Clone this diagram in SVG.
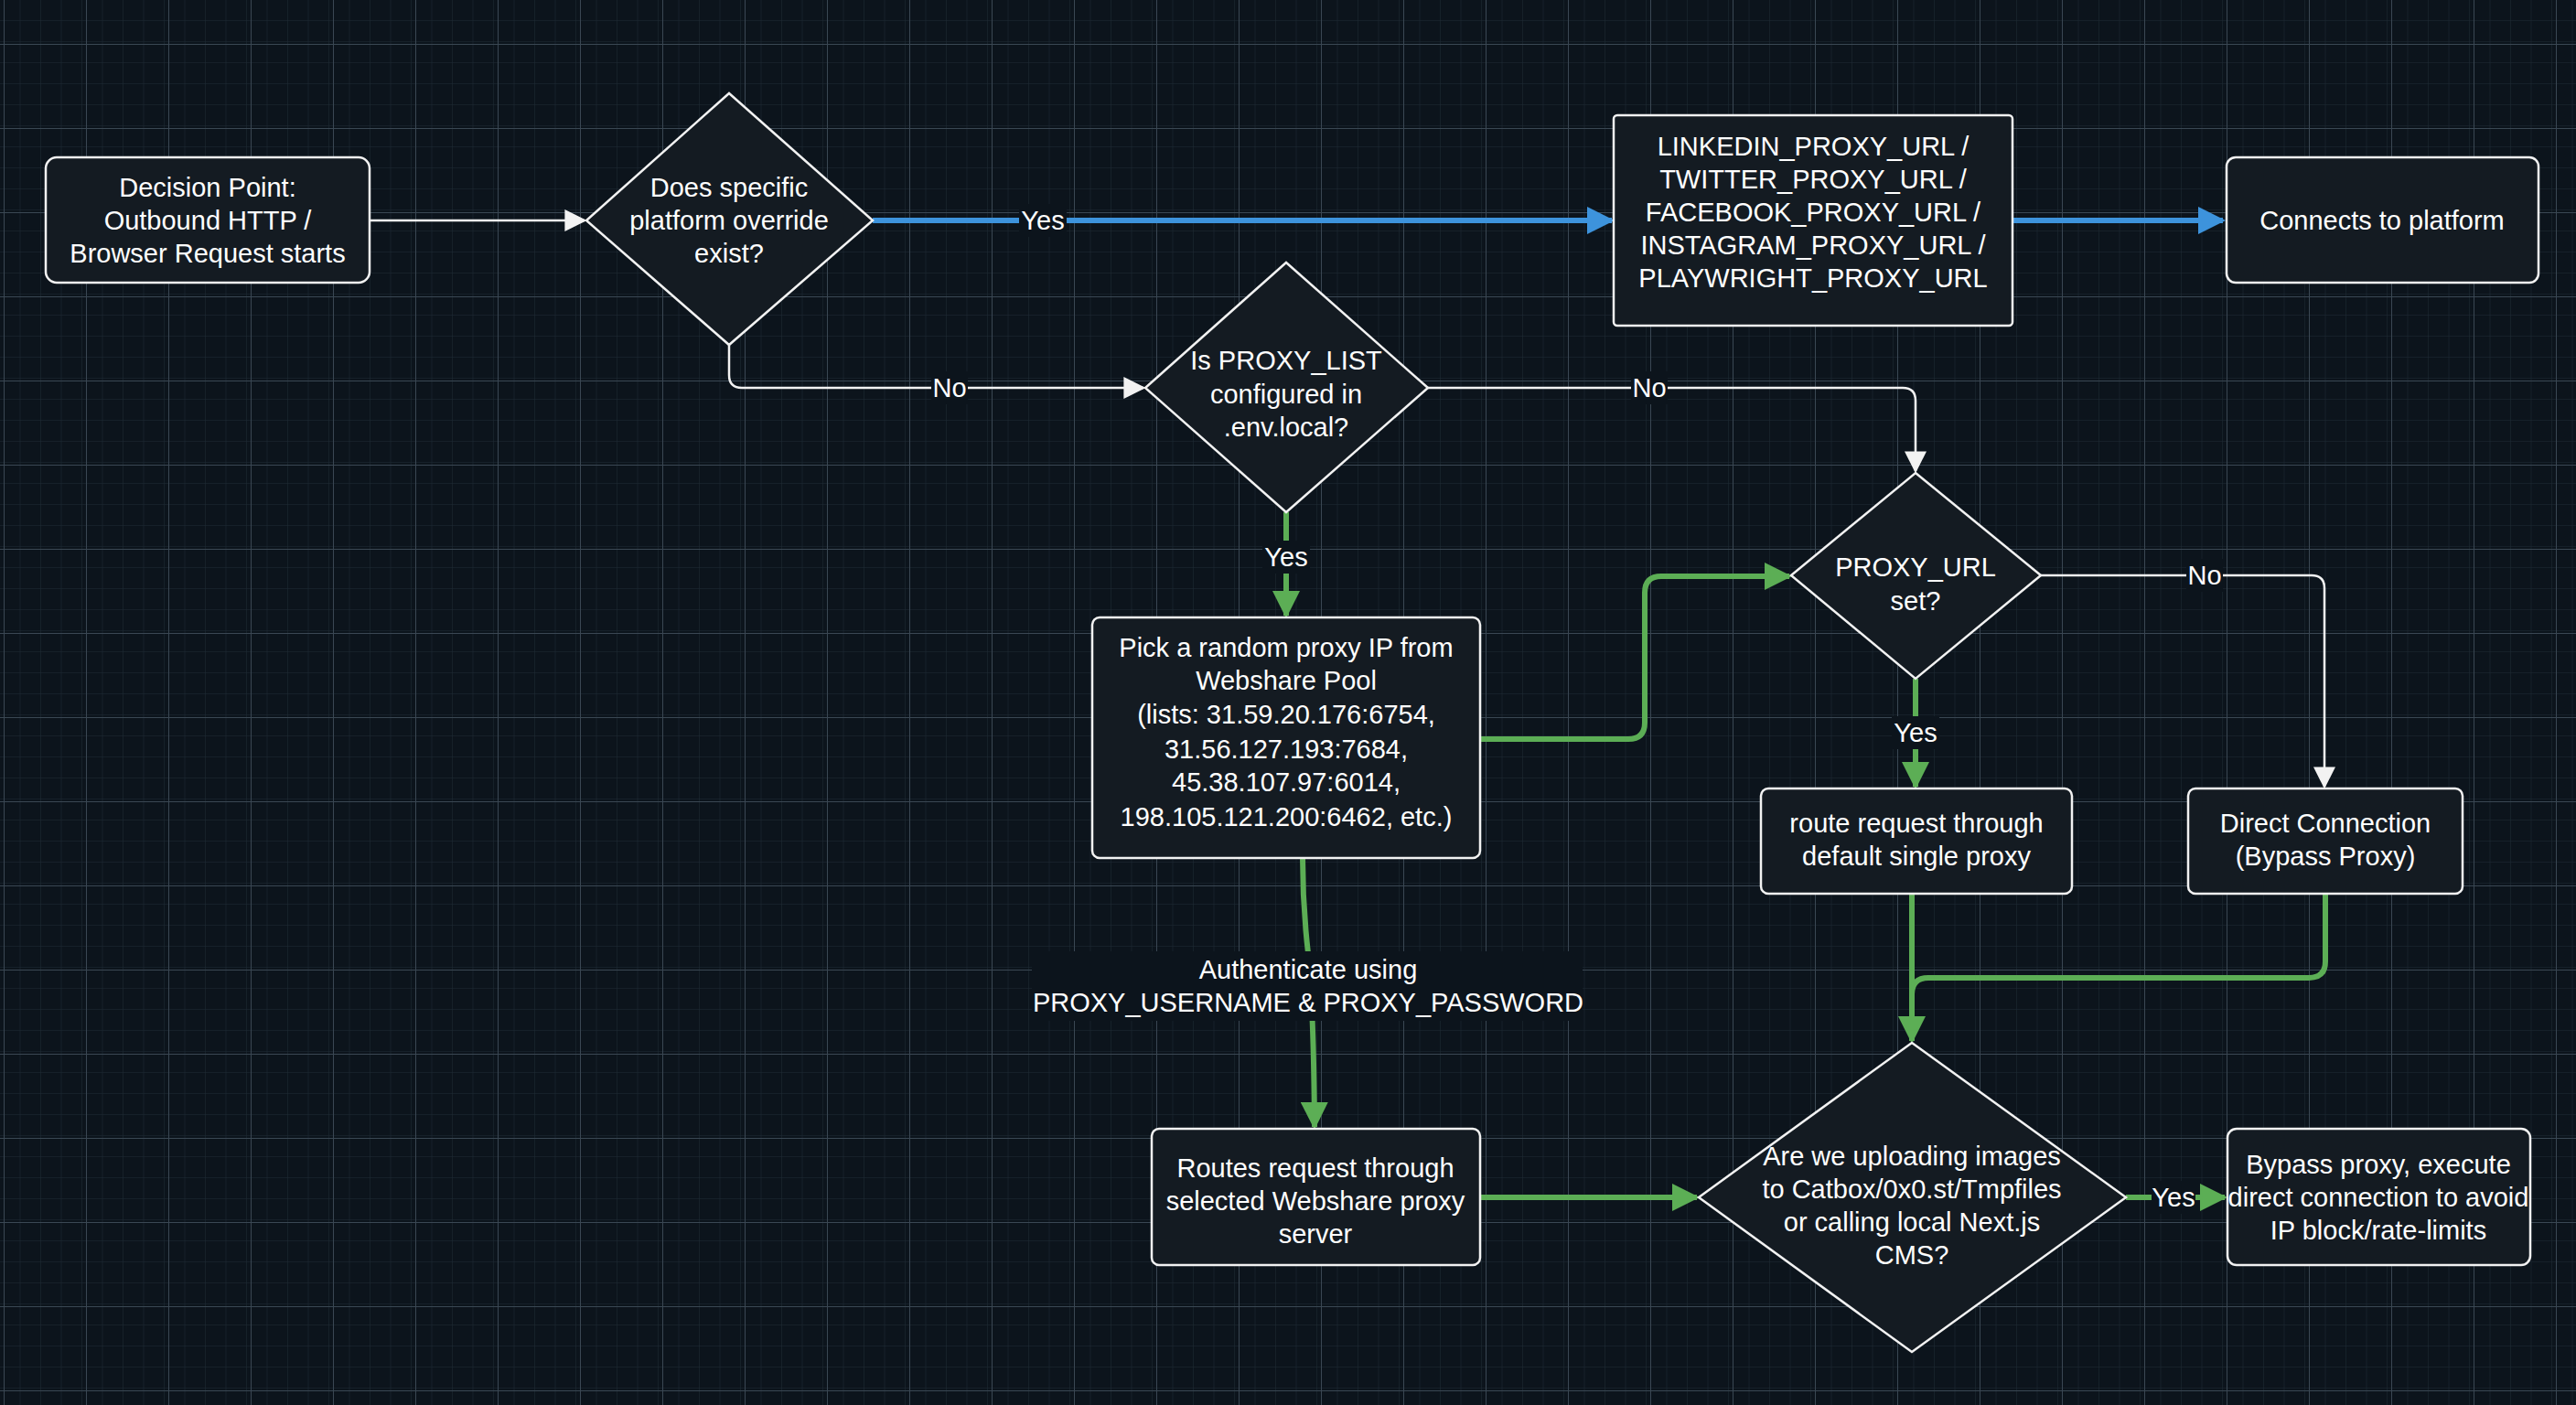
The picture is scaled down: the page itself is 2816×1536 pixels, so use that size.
<svg xmlns="http://www.w3.org/2000/svg" width="2816" height="1536" viewBox="0 0 2816 1536">
<defs>
<pattern id="minor" width="22.5" height="23" patternUnits="userSpaceOnUse"><path d="M22.5 0V23M0 23H22.5" fill="none" stroke="#1f2b36" stroke-width="1"/></pattern>
<pattern id="major" width="90" height="92" patternUnits="userSpaceOnUse" x="4" y="48"><path d="M0 0V92M0 0H90" fill="none" stroke="#3a4753" stroke-width="2"/></pattern>
<marker id="aw" viewBox="0 0 10 10" refX="9" refY="5" markerWidth="10" markerHeight="10" orient="auto" markerUnits="userSpaceOnUse"><path d="M0 0L10 5L0 10z" fill="#f2f2f2"/></marker>
<marker id="aw2" viewBox="0 0 10 10" refX="9" refY="5" markerWidth="24" markerHeight="24" orient="auto" markerUnits="userSpaceOnUse"><path d="M0 0L10 5L0 10z" fill="#f2f2f2"/></marker>
<marker id="ab" viewBox="0 0 10 10" refX="9" refY="5" markerWidth="5" markerHeight="5" orient="auto"><path d="M0 0L10 5L0 10z" fill="#3d93dc"/></marker>
<marker id="ag" viewBox="0 0 10 10" refX="9" refY="5" markerWidth="5" markerHeight="5" orient="auto"><path d="M0 0L10 5L0 10z" fill="#5cae55"/></marker>
<style>
.n{fill:#141b22;stroke:#f2f2f2;stroke-width:2.5}
text{font-family:"Liberation Sans",Arial,sans-serif;font-size:29px;fill:#ffffff;text-anchor:middle;dominant-baseline:central}
.w{fill:none;stroke:#f2f2f2;stroke-width:2.5}
.b{fill:none;stroke:#3d93dc;stroke-width:6}
.g{fill:none;stroke:#5cae55;stroke-width:6;stroke-linejoin:round}
.lb{fill:#0c141c}
</style>
</defs>
<rect width="2816" height="1536" fill="#0c141c"/>
<rect width="2816" height="1536" fill="url(#minor)"/>
<rect width="2816" height="1536" fill="url(#major)"/>
<g id="connectors">
<path class="w" d="M404 241H639" marker-end="url(#aw2)"/>
<path class="b" d="M954 241H1762" marker-end="url(#ab)"/>
<rect class="lb" x="1114" y="223" width="52" height="36"/><text x="1140" y="241">Yes</text>
<path class="b" d="M2200 241H2430" marker-end="url(#ab)"/>
<path class="w" d="M797 377V410Q797 424 811 424H1250" marker-end="url(#aw2)"/>
<rect class="lb" x="1018" y="406" width="40" height="36"/><text x="1038" y="424">No</text>
<path class="w" d="M1561 424H2080Q2094 424 2094 438V515" marker-end="url(#aw2)"/>
<rect class="lb" x="1783" y="406" width="40" height="36"/><text x="1803" y="424">No</text>
<path class="g" d="M1406 560V673" marker-end="url(#ag)"/>
<rect class="lb" x="1380" y="591" width="52" height="36"/><text x="1406" y="609">Yes</text>
<path class="g" d="M1618 808H1780Q1798 808 1798 790V648Q1798 630 1816 630H1956" marker-end="url(#ag)"/>
<path class="w" d="M2231 629H2527Q2541 629 2541 643V860" marker-end="url(#aw2)"/>
<rect class="lb" x="2390" y="611" width="40" height="36"/><text x="2410" y="629">No</text>
<path class="g" d="M2094 742V860" marker-end="url(#ag)"/>
<rect class="lb" x="2068" y="783" width="52" height="36"/><text x="2094" y="801">Yes</text>
<path class="g" d="M2090 977V1138" marker-end="url(#ag)"/>
<path class="g" d="M2542 977V1051Q2542 1069 2524 1069H2108Q2090 1069 2090 1087"/>
<path class="g" d="M1424 938Q1424 990 1430 1042Q1436 1100 1437 1232" marker-end="url(#ag)"/>
<rect class="lb" x="1128" y="1040" width="602" height="76"/>
<text x="1430" y="1060">Authenticate using</text>
<text x="1430" y="1096">PROXY_USERNAME &amp; PROXY_PASSWORD</text>
<path class="g" d="M1618 1309H1855" marker-end="url(#ag)"/>
<path class="g" d="M2324 1309H2432" marker-end="url(#ag)"/>
<rect class="lb" x="2352" y="1291" width="48" height="36"/><text x="2376" y="1309">Yes</text>
</g>
<g id="start"><rect class="n" x="50" y="172" width="354" height="137" rx="12"/>
<text x="227" y="205">Decision Point:</text><text x="227" y="241">Outbound HTTP /</text><text x="227" y="277">Browser Request starts</text></g>
<g id="d1"><path class="n" d="M797 102L954 241L797 377L641 241Z"/>
<text x="797" y="205">Does specific</text><text x="797" y="241">platform override</text><text x="797" y="277">exist?</text></g>
<g id="platformProxies"><rect class="n" x="1764" y="126" width="436" height="230" rx="4"/>
<text x="1982" y="160">LINKEDIN_PROXY_URL /</text><text x="1982" y="196">TWITTER_PROXY_URL /</text><text x="1982" y="232">FACEBOOK_PROXY_URL /</text><text x="1982" y="268">INSTAGRAM_PROXY_URL /</text><text x="1982" y="304">PLAYWRIGHT_PROXY_URL</text></g>
<g id="connects"><rect class="n" x="2434" y="172" width="341" height="137" rx="10"/>
<text x="2604" y="241">Connects to platform</text></g>
<g id="d2"><path class="n" d="M1406 287L1561 424L1406 560L1252 424Z"/>
<text x="1406" y="394">Is PROXY_LIST</text><text x="1406" y="431">configured in</text><text x="1406" y="467">.env.local?</text></g>
<g id="d3"><path class="n" d="M2094 517L2231 629L2094 742L1958 629Z"/>
<text x="2094" y="620">PROXY_URL</text><text x="2094" y="657">set?</text></g>
<g id="pick"><rect class="n" x="1194" y="675" width="424" height="263" rx="8"/>
<text x="1406" y="708">Pick a random proxy IP from</text><text x="1406" y="744">Webshare Pool</text><text x="1406" y="781">(lists: 31.59.20.176:6754,</text><text x="1406" y="819">31.56.127.193:7684,</text><text x="1406" y="855">45.38.107.97:6014,</text><text x="1406" y="893">198.105.121.200:6462, etc.)</text></g>
<g id="route"><rect class="n" x="1925" y="862" width="340" height="115" rx="8"/>
<text x="2095" y="900">route request through</text><text x="2095" y="936">default single proxy</text></g>
<g id="direct"><rect class="n" x="2392" y="862" width="300" height="115" rx="8"/>
<text x="2542" y="900">Direct Connection</text><text x="2542" y="936">(Bypass Proxy)</text></g>
<g id="routes"><rect class="n" x="1259" y="1234" width="359" height="149" rx="8"/>
<text x="1438" y="1277">Routes request through</text><text x="1438" y="1313">selected Webshare proxy</text><text x="1438" y="1349">server</text></g>
<g id="d4"><path class="n" d="M2090 1140L2324 1309L2090 1478L1857 1309Z"/>
<text x="2090" y="1264">Are we uploading images</text><text x="2090" y="1300">to Catbox/0x0.st/Tmpfiles</text><text x="2090" y="1336">or calling local Next.js</text><text x="2090" y="1372">CMS?</text></g>
<g id="bypass"><rect class="n" x="2435" y="1234" width="331" height="149" rx="10"/>
<text x="2600" y="1273">Bypass proxy, execute</text><text x="2600" y="1309">direct connection to avoid</text><text x="2600" y="1345">IP block/rate-limits</text></g>
</svg>
